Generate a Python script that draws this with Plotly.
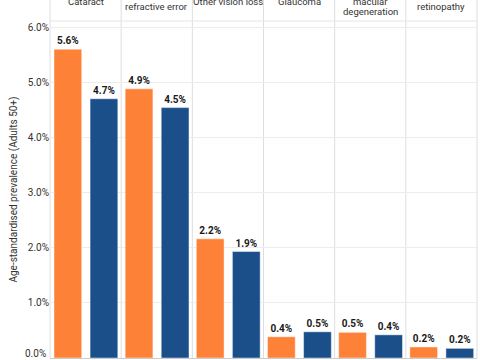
import plotly.graph_objects as go

conditions = [["Cataract"], ["Uncorrected", "refractive error"], ["Other vision loss"], ["Glaucoma"],
              ["Age-related", "macular", "degeneration"], ["Diabetic", "retinopathy"]]
series_a = [5.6, 4.88, 2.16, 0.385, 0.465, 0.20]
series_b = [4.7, 4.54, 1.93, 0.475, 0.42, 0.175]
y_ticks = [0, 1, 2, 3, 4, 5, 6]
y_tick_labels = ["0.0%", "1.0%", "2.0%", "3.0%", "4.0%", "5.0%", "6.0%"]

ORANGE = "#FE8138"
BLUE = "#1B4F8A"
FONT = "Roboto"
TXT = "#333333"

n = len(conditions)
cats = list(range(n))

fig = go.Figure()
for vals, color, off in [(series_a, ORANGE, -0.444), (series_b, BLUE, 0.063)]:
    fig.add_trace(go.Bar(
        x=cats, y=vals, width=0.39, offset=off,
        marker=dict(color=color, line=dict(color="rgba(255,255,255,0.45)", width=1)),
        text=[f"{v:.1f}%" for v in vals], textposition="outside",
        textfont=dict(family=FONT, size=10, color="#1a1a1a", weight="bold"),
        cliponaxis=False, showlegend=False, hoverinfo="skip",
    ))

W, H = 480, 360
ml, mr, mt, mb = 50, 3, 21, 2
ph = H - mt - mb

shapes = []
for i in range(n + 1):
    shapes.append(dict(type="line", xref="paper", yref="paper",
                       x0=i / n, x1=i / n, y0=0, y1=1 + 40 / ph,
                       line=dict(color="#dedede", width=1), layer="below"))
shapes.append(dict(type="line", xref="paper", yref="paper", x0=0, x1=1, y0=1, y1=1,
                   line=dict(color="#e6e6e6", width=1), layer="below"))

annotations = []
for i, lines in enumerate(conditions):
    k = len(lines)
    for j, line in enumerate(lines):
        cy = 1.4 + (j - (k - 1) / 2) * 10.5
        annotations.append(dict(text=line, xref="paper", yref="paper",
                                x=(i + 0.5) / n, y=1 + (mt - cy) / ph,
                                xanchor="center", yanchor="middle", showarrow=False,
                                font=dict(family=FONT, size=9.5, color=TXT)))
# bottom tick label, nudged up so it stays inside the picture
annotations.append(dict(text=y_tick_labels[0], xref="paper", yref="y", x=0, y=y_ticks[0],
                        xanchor="right", yanchor="middle", xshift=-2, yshift=5,
                        showarrow=False, font=dict(family=FONT, size=10, color=TXT)))

fig.update_layout(
    width=W, height=H,
    margin=dict(l=ml, r=mr, t=mt, b=mb, pad=0),
    paper_bgcolor="white", plot_bgcolor="white",
    barmode="overlay",
    shapes=shapes, annotations=annotations,
    font=dict(family=FONT, size=10, color=TXT),
    xaxis=dict(range=[-0.5, n - 0.5], showticklabels=False, showgrid=False,
               zeroline=False, showline=True, linecolor="#cccccc", ticks=""),
    yaxis=dict(range=[0, 6.11], tickvals=y_ticks[1:], ticktext=y_tick_labels[1:],
               showgrid=True, gridcolor="#ececec", zeroline=False,
               tickfont=dict(family=FONT, size=10, color=TXT),
               title=dict(text="Age-standardised prevalence (Adults 50+)",
                          font=dict(family=FONT, size=10, color=TXT), standoff=8)),
)

fig.write_html("out.html", config={"displayModeBar": False},
               post_script="document.body.style.margin='0px';")
